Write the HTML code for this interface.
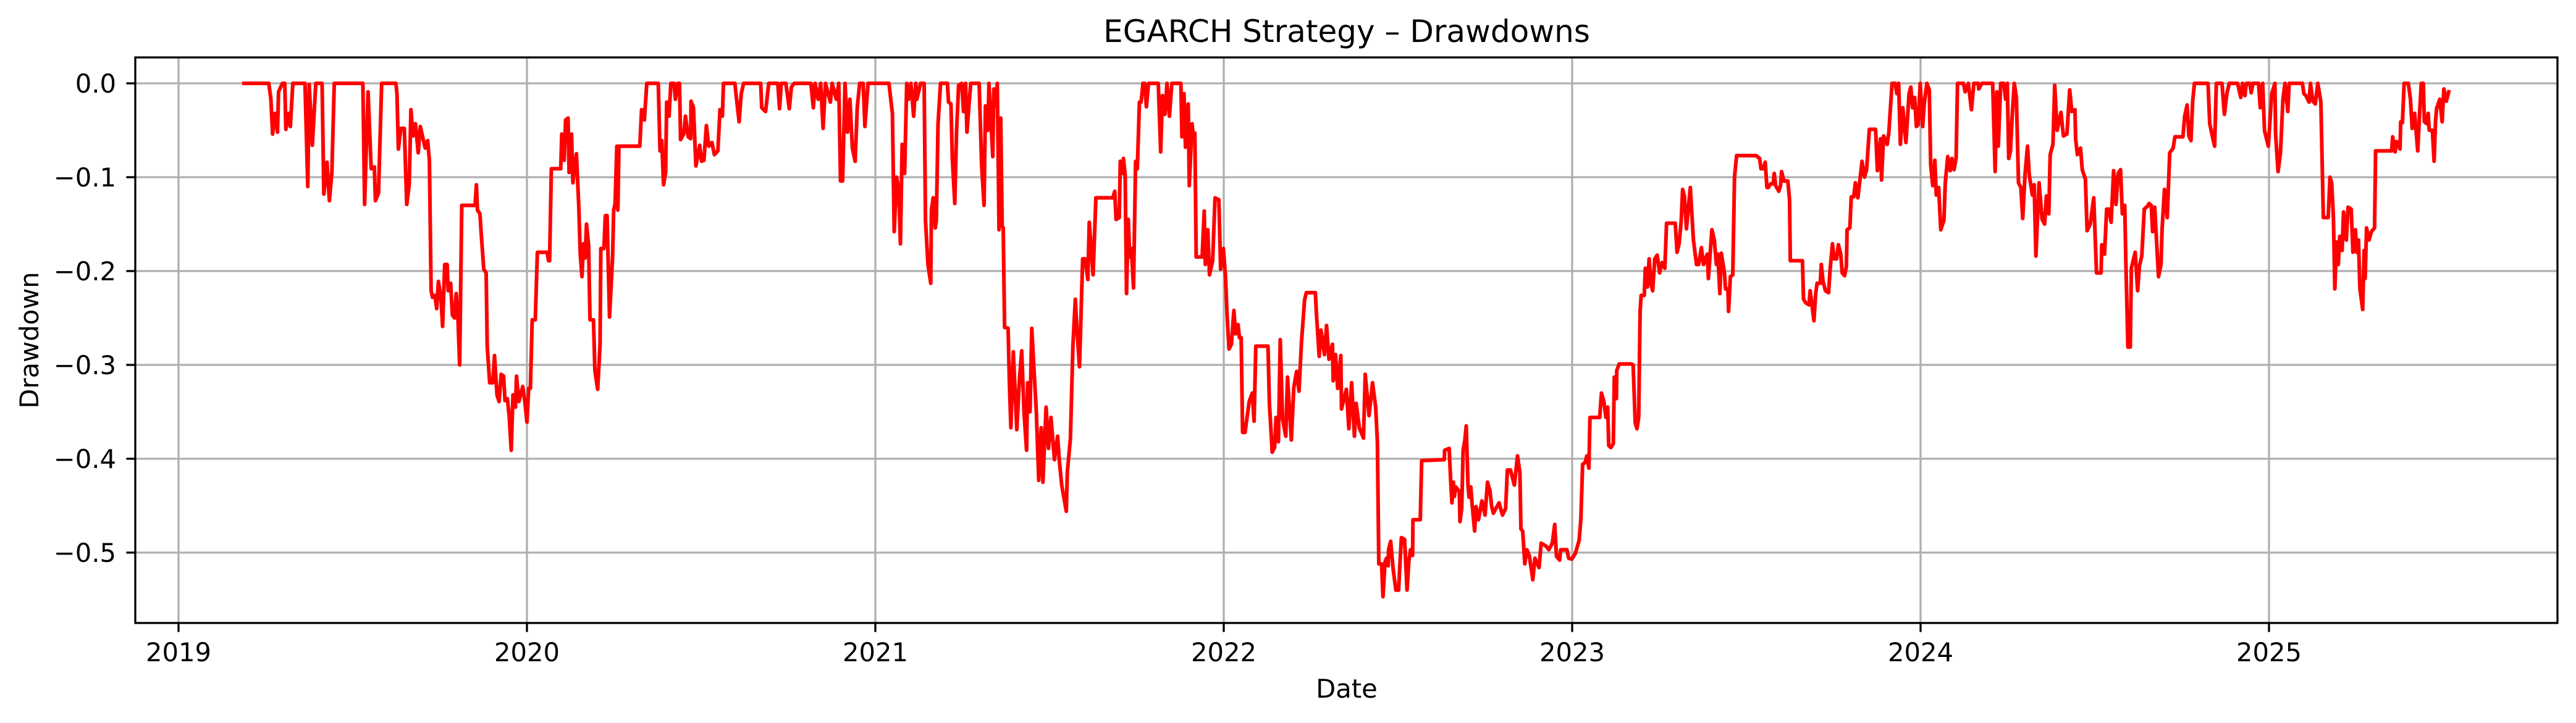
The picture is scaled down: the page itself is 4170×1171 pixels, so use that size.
<!DOCTYPE html>
<html><head><meta charset="utf-8"><style>
html,body{margin:0;padding:0;background:#fff}
svg text{font-family:"DejaVu Sans","Liberation Sans",sans-serif;fill:#000}
</style></head><body>
<svg id="chart" width="4170" height="1166" viewBox="0 0 4170 1166" xmlns="http://www.w3.org/2000/svg">
<rect x="0" y="0" width="4170" height="1166" fill="#fff"/>
<g id="grid"></g>
<g id="series"></g>
<rect x="219" y="93" width="3921" height="916" fill="none" stroke="#000" stroke-width="3.3"/>
<g id="ticks"></g>
<text x="2180" y="68" font-size="50" text-anchor="middle">EGARCH Strategy – Drawdowns</text>
<text x="2180" y="1130" font-size="41.7" text-anchor="middle">Date</text>
<text x="62" y="551" font-size="41.7" text-anchor="middle" transform="rotate(-90 62 551)">Drawdown</text>
</svg>
<script>
const xTicks=[2019,2020,2021,2022,2023,2024,2025];
const xTickLabels=["2019","2020","2021","2022","2023","2024","2025"];
const yTicks=[0,-0.1,-0.2,-0.3,-0.4,-0.5];
const yTickLabels=["0.0","\u22120.1","\u22120.2","\u22120.3","\u22120.4","\u22120.5"];
const dates=[2019.188,2019.259,2019.265,2019.270,2019.277,2019.284,2019.287,2019.298,2019.305,2019.308,2019.315,2019.321,2019.328,2019.363,2019.371,2019.375,2019.384,2019.394,2019.412,2019.417,2019.426,2019.433,2019.440,2019.447,2019.529,2019.534,2019.544,2019.553,2019.562,2019.565,2019.574,2019.583,2019.624,2019.627,2019.631,2019.638,2019.648,2019.655,2019.662,2019.667,2019.673,2019.680,2019.688,2019.694,2019.708,2019.715,2019.720,2019.725,2019.729,2019.736,2019.741,2019.746,2019.753,2019.758,2019.764,2019.771,2019.774,2019.781,2019.786,2019.792,2019.797,2019.802,2019.807,2019.813,2019.851,2019.855,2019.858,2019.865,2019.869,2019.876,2019.883,2019.886,2019.893,2019.902,2019.907,2019.914,2019.920,2019.926,2019.933,2019.937,2019.944,2019.949,2019.955,2019.960,2019.967,2019.970,2019.977,2019.988,2019.994,2020.000,2020.005,2020.010,2020.015,2020.024,2020.030,2020.058,2020.062,2020.065,2020.070,2020.097,2020.100,2020.107,2020.111,2020.118,2020.121,2020.128,2020.132,2020.136,2020.142,2020.149,2020.153,2020.158,2020.162,2020.167,2020.171,2020.177,2020.181,2020.191,2020.195,2020.203,2020.210,2020.212,2020.221,2020.225,2020.230,2020.237,2020.246,2020.249,2020.253,2020.258,2020.261,2020.264,
2020.324,2020.329,2020.337,2020.344,2020.377,2020.382,2020.387,2020.392,2020.398,2020.401,2020.408,2020.413,2020.422,2020.426,2020.433,2020.438,2020.441,2020.450,2020.455,2020.463,2020.470,2020.471,2020.478,2020.485,2020.496,2020.501,2020.508,2020.515,2020.522,2020.531,2020.538,2020.548,2020.554,2020.561,2020.564,2020.597,2020.601,2020.609,2020.615,2020.622,2020.671,2020.674,2020.685,2020.694,2020.720,2020.725,2020.730,2020.743,2020.753,2020.759,2020.767,2020.815,2020.822,2020.827,2020.836,2020.843,2020.850,2020.857,2020.871,2020.876,2020.888,2020.895,2020.900,2020.906,2020.913,2020.920,2020.927,2020.934,2020.942,2020.948,2020.955,2020.965,2020.970,2020.979,2021.039,2021.049,2021.054,2021.061,2021.067,2021.072,2021.077,2021.084,2021.090,2021.095,2021.102,2021.110,2021.116,2021.119,2021.130,2021.140,2021.144,2021.151,2021.159,2021.161,2021.166,2021.172,2021.175,2021.180,2021.187,2021.207,2021.210,2021.217,2021.221,2021.228,2021.233,2021.239,2021.248,2021.253,2021.259,2021.263,2021.270,2021.274,2021.298,2021.305,2021.312,2021.316,2021.323,2021.326,2021.337,2021.340,2021.346,2021.350,2021.355,
2021.360,2021.364,2021.367,2021.371,2021.381,2021.385,2021.389,2021.396,2021.406,2021.413,2021.420,2021.427,2021.434,2021.437,2021.444,2021.449,2021.455,2021.462,2021.469,2021.476,2021.481,2021.490,2021.497,2021.504,2021.514,2021.523,2021.528,2021.535,2021.548,2021.551,2021.560,2021.567,2021.574,2021.579,2021.586,2021.595,2021.602,2021.610,2021.614,2021.625,2021.633,2021.682,2021.687,2021.691,2021.700,2021.703,2021.709,2021.712,2021.717,2021.721,2021.726,2021.730,2021.735,2021.741,2021.747,2021.752,2021.758,2021.763,2021.768,2021.773,2021.778,2021.784,2021.805,2021.812,2021.819,2021.824,2021.831,2021.837,2021.844,2021.851,2021.877,2021.880,2021.886,2021.890,2021.898,2021.901,2021.909,2021.914,2021.917,2021.921,2021.938,2021.944,2021.947,2021.954,2021.959,2021.968,2021.975,2021.986,2021.991,2021.999,2022.005,2022.010,2022.015,2022.022,2022.029,2022.034,2022.041,2022.045,2022.050,2022.054,2022.061,2022.073,2022.082,2022.087,2022.092,2022.127,2022.131,2022.139,2022.146,2022.150,2022.157,2022.162,2022.169,2022.178,2022.183,2022.194,2022.201,2022.209,2022.216,2022.223,2022.232,2022.237,2022.263,2022.266,2022.274,2022.279,2022.289,2022.295,2022.302,2022.312,2022.314,2022.321,2022.327,2022.336,2022.338,2022.352,2022.359,2022.367,2022.375,2022.380,2022.389,2022.401,2022.406,2022.417,2022.427,2022.436,2022.441,2022.445,2022.453,2022.457,
2022.463,2022.467,2022.472,2022.473,2022.479,2022.486,2022.494,2022.502,2022.505,2022.510,2022.519,2022.526,2022.531,2022.536,2022.542,2022.543,2022.564,2022.568,2022.633,2022.634,2022.647,2022.652,2022.655,2022.659,2022.662,2022.666,2022.676,2022.678,2022.683,2022.687,2022.692,2022.696,2022.701,2022.704,2022.709,2022.713,2022.720,2022.724,2022.731,2022.741,2022.750,2022.757,2022.764,2022.769,2022.774,2022.781,2022.790,2022.800,2022.809,2022.814,2022.823,2022.834,2022.843,2022.850,2022.853,2022.858,2022.864,2022.870,2022.877,2022.887,2022.893,2022.905,2022.911,2022.925,2022.933,2022.943,2022.950,2022.955,2022.964,2022.967,2022.985,2022.990,2022.999,2023.009,2023.020,2023.025,2023.030,2023.037,2023.042,2023.048,2023.051,2023.079,2023.084,2023.091,2023.097,2023.102,2023.105,2023.111,2023.118,2023.121,2023.127,2023.128,2023.135,2023.170,2023.175,2023.181,2023.186,2023.191,2023.195,2023.198,2023.207,2023.210,2023.216,2023.221,2023.226,2023.231,2023.237,2023.244,2023.251,2023.258,2023.266,2023.271,2023.296,2023.301,2023.307,2023.313,2023.317,2023.322,2023.328,2023.339,2023.348,2023.357,2023.363,2023.371,2023.377,2023.388,2023.391,2023.401,2023.408,2023.414,2023.418,2023.424,2023.428,2023.437,2023.440,2023.447,2023.449,2023.454,2023.461,2023.466,2023.472,2023.528,2023.538,2023.542,2023.549,2023.554,
2023.559,2023.563,2023.570,2023.577,2023.580,2023.584,2023.593,2023.598,2023.601,2023.608,2023.619,2023.624,2023.626,2023.661,2023.664,2023.671,2023.680,2023.683,2023.694,2023.699,2023.703,2023.712,2023.715,2023.720,2023.727,2023.736,2023.740,2023.747,2023.752,2023.759,2023.764,2023.771,2023.775,2023.782,2023.787,2023.789,2023.797,2023.801,2023.808,2023.813,2023.820,2023.825,2023.832,2023.839,2023.845,2023.853,2023.871,2023.876,2023.885,2023.888,2023.894,2023.904,2023.909,2023.918,2023.927,2023.932,2023.937,2023.942,2023.949,2023.958,2023.967,2023.972,2023.977,2023.983,2023.988,2023.993,2023.999,2024.006,2024.011,2024.018,2024.025,2024.029,2024.035,2024.041,2024.045,2024.052,2024.058,2024.067,2024.071,2024.078,2024.085,2024.090,2024.096,2024.102,2024.106,2024.123,2024.128,2024.137,2024.146,2024.153,2024.165,2024.167,2024.176,2024.207,2024.214,2024.219,2024.223,2024.230,2024.239,2024.244,2024.249,2024.253,2024.258,2024.263,2024.269,2024.275,2024.281,2024.288,2024.293,2024.300,2024.307,2024.312,2024.321,2024.326,2024.331,2024.340,2024.349,2024.356,2024.361,2024.368,2024.372,2024.380,2024.385,2024.392,2024.403,2024.410,2024.420,2024.428,2024.434,2024.443,2024.445,2024.450,2024.459,2024.464,2024.473,2024.478,2024.487,2024.497,2024.505,2024.518,2024.520,2024.528,2024.534,2024.540,2024.547,2024.554,2024.561,2024.567,2024.574,2024.579,2024.586,2024.589,2024.595,2024.602,2024.605,2024.616,2024.623,2024.628,2024.635,2024.642,2024.651,2024.656,
2024.662,2024.666,2024.672,2024.683,2024.690,2024.693,2024.700,2024.708,2024.715,2024.725,2024.730,2024.753,2024.758,2024.765,2024.770,2024.776,2024.781,2024.786,2024.825,2024.830,2024.839,2024.844,2024.849,2024.865,2024.872,2024.879,2024.886,2024.910,2024.919,2024.924,2024.931,2024.935,2024.945,2024.949,2024.954,2024.970,2024.975,2024.982,2024.987,2024.998,2025.008,2025.017,2025.019,2025.026,2025.033,2025.040,2025.046,2025.054,2025.058,2025.096,2025.100,2025.106,2025.115,2025.119,2025.126,2025.133,2025.140,2025.149,2025.156,2025.170,2025.175,2025.180,2025.185,2025.189,2025.194,2025.199,2025.203,2025.210,2025.214,2025.222,2025.227,2025.236,2025.241,2025.248,2025.252,2025.257,2025.261,2025.269,2025.273,2025.276,2025.280,2025.287,2025.294,2025.303,2025.306,2025.352,2025.355,2025.362,2025.366,2025.376,2025.378,2025.383,2025.388,2025.400,2025.406,2025.411,2025.418,2025.427,2025.432,2025.437,2025.443,2025.446,2025.453,2025.457,2025.460,2025.469,2025.474,2025.478,2025.481,2025.490,2025.497,2025.502,2025.509,2025.516];
const drawdowns=[0,0,-0.017,-0.054,-0.032,-0.052,-0.009,0,0,-0.049,-0.032,-0.046,0,0,-0.110,-0.001,-0.066,0,0,-0.118,-0.084,-0.125,-0.095,0,0,-0.129,-0.009,-0.091,-0.089,-0.125,-0.117,0,0,-0.011,-0.070,-0.048,-0.048,-0.129,-0.108,-0.028,-0.056,-0.043,-0.074,-0.046,-0.069,-0.061,-0.082,-0.221,-0.228,-0.226,-0.240,-0.211,-0.228,-0.259,-0.193,-0.193,-0.221,-0.213,-0.247,-0.250,-0.224,-0.250,-0.300,-0.130,-0.130,-0.108,-0.135,-0.139,-0.161,-0.198,-0.202,-0.280,-0.319,-0.319,-0.290,-0.332,-0.339,-0.310,-0.312,-0.338,-0.336,-0.354,-0.391,-0.332,-0.345,-0.312,-0.339,-0.323,-0.339,-0.361,-0.325,-0.325,-0.252,-0.252,-0.180,-0.180,-0.189,-0.189,-0.091,-0.091,-0.054,-0.082,-0.039,-0.037,-0.095,-0.054,-0.106,-0.091,-0.075,-0.132,-0.182,-0.206,-0.171,-0.186,-0.150,-0.172,-0.252,-0.252,-0.306,-0.326,-0.278,-0.176,-0.176,-0.141,-0.141,-0.249,-0.184,-0.135,-0.128,-0.067,-0.135,-0.067,
-0.067,-0.028,-0.039,0,0,-0.072,-0.061,-0.108,-0.095,-0.020,-0.035,0,0,-0.017,0,0,-0.060,-0.054,-0.035,-0.057,-0.059,-0.019,-0.026,-0.088,-0.066,-0.083,-0.082,-0.045,-0.067,-0.063,-0.076,-0.072,-0.028,-0.035,0,0,-0.015,-0.041,-0.011,0,0,-0.026,-0.030,0,0,-0.027,0,0,-0.027,-0.004,0,0,-0.026,0,-0.017,0,-0.048,0,-0.020,0,-0.017,0,-0.104,-0.104,0,-0.052,-0.017,-0.069,-0.083,-0.026,0,0,-0.046,0,0,-0.032,-0.158,-0.100,-0.113,-0.171,-0.065,-0.096,0,-0.017,0,-0.035,0,-0.017,0,0,-0.147,-0.193,-0.213,-0.135,-0.122,-0.154,-0.147,-0.043,0,0,-0.020,-0.022,-0.080,-0.128,-0.052,-0.002,0,-0.030,0,-0.052,-0.017,0,0,-0.087,-0.130,-0.024,-0.050,0,-0.078,-0.006,-0.024,0,-0.156,
-0.037,-0.152,-0.154,-0.260,-0.261,-0.321,-0.367,-0.286,-0.369,-0.319,-0.285,-0.352,-0.391,-0.319,-0.350,-0.261,-0.302,-0.350,-0.423,-0.367,-0.425,-0.345,-0.389,-0.356,-0.401,-0.376,-0.402,-0.428,-0.456,-0.414,-0.378,-0.280,-0.230,-0.265,-0.302,-0.187,-0.187,-0.209,-0.148,-0.204,-0.122,-0.122,-0.115,-0.145,-0.143,-0.083,-0.096,-0.080,-0.098,-0.224,-0.145,-0.185,-0.176,-0.218,-0.083,-0.091,-0.020,-0.020,0,0,-0.025,0,0,0,-0.073,-0.013,-0.033,0,-0.035,0,0,-0.057,-0.011,-0.068,-0.022,-0.109,-0.043,-0.061,-0.053,-0.185,-0.185,-0.136,-0.193,-0.156,-0.204,-0.189,-0.122,-0.124,-0.198,-0.176,-0.206,-0.250,-0.283,-0.278,-0.242,-0.267,-0.257,-0.271,-0.271,-0.372,-0.372,-0.339,-0.330,-0.360,-0.280,-0.280,-0.341,-0.393,-0.388,-0.356,-0.382,-0.273,-0.358,-0.376,-0.313,-0.380,-0.324,-0.307,-0.328,-0.276,-0.231,-0.223,-0.223,-0.245,-0.291,-0.263,-0.289,-0.258,-0.294,-0.278,-0.317,-0.289,-0.325,-0.290,-0.347,-0.326,-0.368,-0.319,-0.376,-0.341,-0.367,-0.378,-0.310,-0.354,-0.319,-0.345,-0.382,-0.512,-0.512,-0.547,
-0.510,-0.506,-0.514,-0.497,-0.488,-0.517,-0.540,-0.540,-0.517,-0.484,-0.486,-0.540,-0.510,-0.497,-0.503,-0.465,-0.465,-0.402,-0.401,-0.391,-0.389,-0.428,-0.447,-0.425,-0.440,-0.430,-0.435,-0.467,-0.453,-0.391,-0.380,-0.365,-0.428,-0.441,-0.430,-0.449,-0.477,-0.451,-0.465,-0.445,-0.460,-0.425,-0.434,-0.451,-0.458,-0.453,-0.447,-0.460,-0.453,-0.412,-0.412,-0.428,-0.397,-0.415,-0.475,-0.477,-0.512,-0.497,-0.503,-0.529,-0.506,-0.516,-0.490,-0.493,-0.497,-0.490,-0.470,-0.504,-0.508,-0.497,-0.497,-0.506,-0.507,-0.501,-0.487,-0.464,-0.406,-0.404,-0.397,-0.410,-0.356,-0.356,-0.330,-0.339,-0.356,-0.345,-0.386,-0.388,-0.384,-0.313,-0.336,-0.306,-0.299,-0.299,-0.300,-0.362,-0.368,-0.356,-0.243,-0.226,-0.226,-0.197,-0.217,-0.187,-0.213,-0.221,-0.187,-0.183,-0.202,-0.191,-0.197,-0.149,-0.149,-0.180,-0.171,-0.147,-0.113,-0.120,-0.155,-0.111,-0.167,-0.193,-0.193,-0.175,-0.193,-0.182,-0.208,-0.156,-0.167,-0.193,-0.182,-0.224,-0.181,-0.202,-0.219,-0.219,-0.243,-0.206,-0.204,-0.100,-0.077,-0.077,-0.080,-0.091,-0.091,-0.084,
-0.111,-0.111,-0.107,-0.107,-0.096,-0.109,-0.115,-0.109,-0.094,-0.104,-0.104,-0.124,-0.189,-0.189,-0.230,-0.234,-0.236,-0.221,-0.253,-0.224,-0.213,-0.213,-0.193,-0.211,-0.221,-0.223,-0.200,-0.171,-0.187,-0.187,-0.172,-0.182,-0.202,-0.205,-0.195,-0.156,-0.154,-0.121,-0.121,-0.106,-0.122,-0.106,-0.083,-0.100,-0.092,-0.049,-0.049,-0.093,-0.059,-0.103,-0.056,-0.065,-0.052,0,0,-0.011,0,-0.065,-0.026,-0.063,-0.011,-0.004,-0.026,-0.015,-0.046,-0.044,0,-0.046,-0.020,0,-0.007,-0.087,-0.109,-0.082,-0.119,-0.111,-0.156,-0.146,-0.106,-0.078,-0.093,-0.080,-0.092,-0.080,0,0,-0.009,0,-0.028,0,0,-0.006,0,0,-0.094,-0.009,-0.067,0,0,-0.017,0,-0.080,-0.072,-0.035,0,-0.015,-0.106,-0.111,-0.144,-0.096,-0.067,-0.098,-0.119,-0.108,-0.184,-0.106,-0.145,-0.150,-0.120,-0.139,-0.076,-0.065,-0.002,-0.050,-0.031,-0.056,-0.054,-0.007,-0.030,-0.028,-0.059,-0.076,-0.069,-0.092,-0.102,-0.157,-0.150,-0.122,-0.202,-0.202,-0.172,-0.182,-0.134,-0.134,-0.148,-0.093,-0.129,-0.096,-0.092,-0.139,-0.130,-0.187,-0.281,-0.281,-0.197,-0.180,-0.221,-0.195,-0.184,-0.134,-0.131,-0.128,
-0.130,-0.158,-0.132,-0.206,-0.193,-0.156,-0.113,-0.143,-0.074,-0.069,-0.057,-0.057,-0.035,-0.023,-0.056,-0.061,-0.019,0,0,-0.043,-0.059,-0.067,0,0,-0.033,-0.011,0,0,-0.015,0,-0.013,0,0,-0.010,0,0,-0.026,0,-0.050,-0.067,-0.011,0,-0.054,-0.094,-0.074,-0.017,0,-0.030,0,0,-0.011,-0.013,-0.020,0,-0.019,-0.022,0,-0.020,-0.143,-0.143,-0.100,-0.106,-0.143,-0.219,-0.169,-0.193,-0.163,-0.178,-0.137,-0.167,-0.132,-0.134,-0.180,-0.156,-0.180,-0.167,-0.219,-0.241,-0.178,-0.208,-0.154,-0.167,-0.158,-0.154,-0.072,-0.072,-0.057,-0.073,-0.062,-0.070,-0.041,-0.042,0,0,-0.017,-0.048,-0.032,-0.072,-0.035,0,0,-0.041,-0.043,-0.032,-0.050,-0.050,-0.083,-0.041,-0.027,-0.017,-0.041,-0.006,-0.019,-0.009];

const L=219,R=4140,T=93,B=1009;
function xs(y){return 289+(y-2019)*564;}
function ys(v){return 135-v*1520;}
const NS="http://www.w3.org/2000/svg";
const grid=document.getElementById('grid'),ticks=document.getElementById('ticks'),series=document.getElementById('series');
function mk(tag,attrs,parent){const e=document.createElementNS(NS,tag);for(const k in attrs)e.setAttribute(k,attrs[k]);parent.appendChild(e);return e;}
xTicks.forEach((t,i)=>{
  const x=xs(t);
  const g=mk('line',{x1:x,x2:x,y1:T,y2:B,stroke:'#b0b0b0','stroke-width':3.3},grid);
  
  
  const tk=mk('line',{x1:x,x2:x,y1:B,y2:B+14.6,stroke:'#000','stroke-width':3.3},ticks);
  
  
  const lb=mk('text',{x:x,y:1071,'font-size':41.7,'text-anchor':'middle'},ticks);
  lb.textContent=xTickLabels[i];
  
  
});
yTicks.forEach((t,i)=>{
  const y=ys(t);
  const g=mk('line',{x1:L,x2:R,y1:y,y2:y,stroke:'#b0b0b0','stroke-width':3.3},grid);
  
  
  const tk=mk('line',{x1:L-14.6,x2:L,y1:y,y2:y,stroke:'#000','stroke-width':3.3},ticks);
  
  
  const lb=mk('text',{x:188,y:y+15,'font-size':41.7,'text-anchor':'end'},ticks);
  lb.textContent=yTickLabels[i];
  
  
});
let d='';
for(let i=0;i<dates.length&&i<drawdowns.length;i++){d+=(i?'L':'M')+xs(dates[i]).toFixed(1)+' '+ys(drawdowns[i]).toFixed(1);}
const p=mk('path',{d:d,fill:'none',stroke:'#ff0000','stroke-width':6,'stroke-linejoin':'round','stroke-linecap':'square'},series);


</script>
</body></html>
